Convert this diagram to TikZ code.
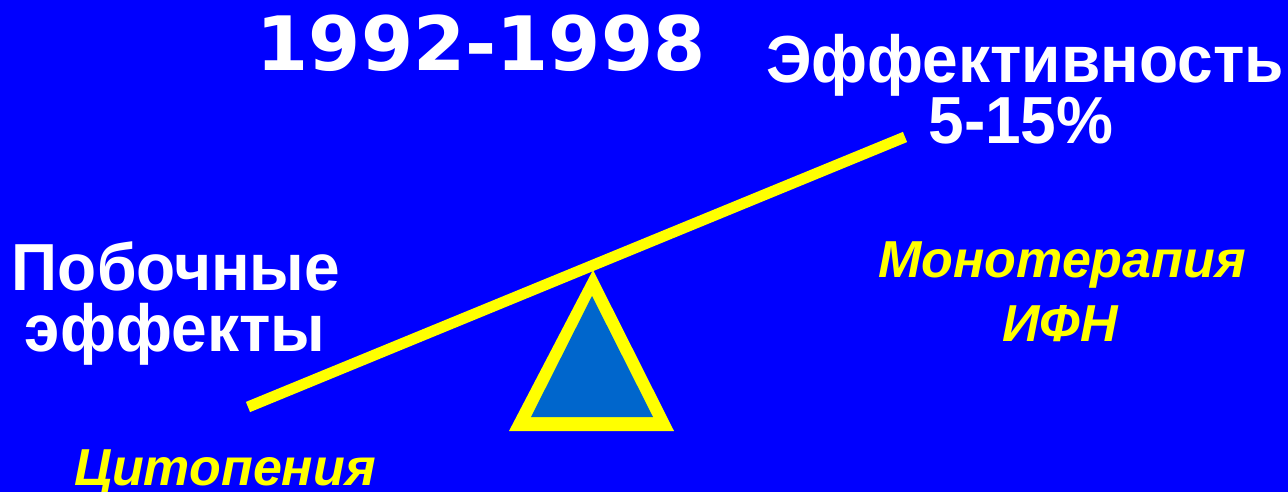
\documentclass[tikz,border=0pt]{standalone}
\usepackage{fontspec}
\setmainfont{Liberation Sans}
\newfontfamily\titlefont{DejaVu Sans}
\definecolor{bgblue}{RGB}{0,0,255}
\definecolor{fillblue}{RGB}{0,102,204}
\definecolor{beamyellow}{RGB}{255,255,0}
\newcommand{\tallt}[1]{\scalebox{1}[1.04]{#1}}
\begin{document}
\begin{tikzpicture}[x=1pt,y=-1pt,
  lbl/.style={inner sep=0pt,anchor=base,text=white,font=\bfseries\fontsize{64}{70}\selectfont},
  ylbl/.style={inner sep=0pt,anchor=base,text=beamyellow,font=\bfseries\itshape\fontsize{52}{58}\selectfont},
  beam/.style={draw=beamyellow,line width=11pt}]
\fill[bgblue] (0,0) rectangle (1288,492);
\useasboundingbox (0,0) rectangle (1288,492);
% fulcrum
\fill[beamyellow] (593,270) -- (509,431) -- (674,431) -- cycle;
\fill[fillblue] (592,296) -- (531,417) -- (653,417) -- cycle;
% beam
\coordinate (bl) at (248,407);
\coordinate (br) at (905,137);
\draw[beam] (bl) -- (br);
% texts
\node[inner sep=0pt,anchor=base,text=white,font=\titlefont\bfseries\fontsize{75}{80}\selectfont] (year) at (481,71) {1992-1998};
\node[lbl] (eff1) at (1025,83) {\tallt{Эффективность}};
\node[lbl] (eff2) at (1021,143) {\tallt{5-15\%}};
\node[lbl] (side1) at (176,290) {\tallt{Побочные}};
\node[lbl] (side2) at (175,351) {\tallt{эффекты}};
\node[ylbl] (mono1) at (1062,277) {Монотерапия};
\node[ylbl] (mono2) at (1060,341) {ИФН};
\node[ylbl] (cyto) at (225,485) {Цитопения};
\end{tikzpicture}
\end{document}
